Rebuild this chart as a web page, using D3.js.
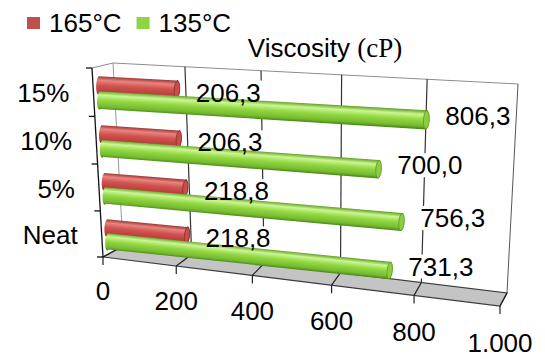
<!DOCTYPE html>
<html>
<head>
<meta charset="utf-8">
<script src="https://cdn.jsdelivr.net/npm/d3@7"></script>
<style>
  body { margin: 0; background: #fff; }
  text { font-family: "Liberation Sans", Arial, sans-serif; fill: #000; }
</style>
</head>
<body>
<svg id="chart" width="545" height="359"></svg>
<script>
// data
var categories = ["Neat", "5%", "10%", "15%"];
var seriesNames = ["165°C", "135°C"];
var values165 = [218.8, 218.8, 206.3, 206.3];
var values135 = [731.3, 756.3, 700.0, 806.3];
var tickValues = [0, 200, 400, 600, 800, 1000];
var titleText = "Viscosity ";
var unitText = "(cP)";

var svg = d3.select("#chart");
var locale = d3.formatLocale({decimal: ",", thousands: ".", grouping: [3], currency: ["", ""]});
var valueFormat = locale.format(",.1f"),
	tickFormat = locale.format(",");

// maps the unit square onto a quad (perspective), p0=(0,0) p1=(1,0) p2=(1,1) p3=(0,1)
function quad(p0, p1, p2, p3) {
	var dx1 = p1[0] - p2[0], dx2 = p3[0] - p2[0], dx3 = p0[0] - p1[0] + p2[0] - p3[0];
	var dy1 = p1[1] - p2[1], dy2 = p3[1] - p2[1], dy3 = p0[1] - p1[1] + p2[1] - p3[1];
	var den = dx1 * dy2 - dx2 * dy1;
	var g = (dx3 * dy2 - dx2 * dy3) / den,
		h = (dx1 * dy3 - dx3 * dy1) / den;
	var a = p1[0] - p0[0] + g * p1[0], b = p3[0] - p0[0] + h * p3[0], c = p0[0];
	var d = p1[1] - p0[1] + g * p1[1], e = p3[1] - p0[1] + h * p3[1], f = p0[1];
	return function(u, v) {
		var w = g * u + h * v + 1;
		return [(a * u + b * v + c) / w, (d * u + e * v + f) / w];
	};
}

// the 3d box as seen in the picture
var backWall = quad([123, 246], [507, 293], [518, 84], [113, 63]);   // u = value, v = height
var leftWall = quad([123, 246], [103, 257], [92, 68], [113, 63]);    // u = depth (1 front), v = height
var barPlane = quad([109, 257], [505, 300], [517, 89], [98, 68]);    // mid depth
var frontA = [103, 257], frontB = [500, 306], frontW = 1.105;
function front(u) {
	var s = u / ((1 - u) * frontW + u);
	return [frontA[0] + s * (frontB[0] - frontA[0]), frontA[1] + s * (frontB[1] - frontA[1])];
}
function floor(u, dep) {
	var b = backWall(u, 0), f = front(u);
	return [b[0] + dep * (f[0] - b[0]), b[1] + dep * (f[1] - b[1])];
}

var x = d3.scaleLinear().domain([0, 1000]).range([0, 1]);
var y = d3.scaleBand().domain(categories).range([0, 1]);
var inner = d3.scaleBand().domain(["135°C", "165°C"]).range([0, y.bandwidth()]).paddingOuter(0.645);
var radius = 0.045;
var color = d3.scaleOrdinal().domain(seriesNames).range(["#c0504d", "#8fd444"]);
var shades = {
	"165°C": ["#9a3634", "#e9857f", "#d2524e", "#b5403d", "#82292a"],
	"135°C": ["#66a228", "#ccf693", "#93d943", "#74ba2e", "#4c871a"]
};
var capFill = {"165°C": "#c94d49", "135°C": "#8ccd42"};
var capLine = {"165°C": "#8a2e2c", "135°C": "#5a9a22"};
var labelDy = {"165°C": 12, "135°C": 5};

function pts(list) { return list.map(function(p) { return p[0] + "," + p[1]; }).join(" "); }
function dist(a, b) { return Math.hypot(a[0] - b[0], a[1] - b[1]); }

// back wall
svg.append("polygon")
	.attr("points", pts([backWall(0, 0), backWall(1, 0), backWall(1, 1), backWall(0, 1)]))
	.attr("fill", "#fff").attr("stroke", "none");
var edges = svg.append("g");
edges.append("line").datum([backWall(0, 1), backWall(1, 1)]).attr("stroke", "#8c8c8c");
edges.append("line").datum([backWall(1, 1), backWall(1, 0)]).attr("stroke", "#555");
edges.append("line").datum([backWall(0, 1), backWall(0, 0)]).attr("stroke", "#9a9a9a");
edges.append("line").datum([leftWall(1, 1), leftWall(0, 1)]).attr("stroke", "#8c8c8c");
edges.selectAll("line")
	.attr("x1", function(d) { return d[0][0]; }).attr("y1", function(d) { return d[0][1]; })
	.attr("x2", function(d) { return d[1][0]; }).attr("y2", function(d) { return d[1][1]; });

// back wall grid
svg.append("g").selectAll("line")
	.data(tickValues.slice(1, -1))
	.enter().append("line")
	.attr("x1", function(t) { return backWall(x(t), 0)[0]; })
	.attr("y1", function(t) { return backWall(x(t), 0)[1]; })
	.attr("x2", function(t) { return backWall(x(t), 1)[0]; })
	.attr("y2", function(t) { return backWall(x(t), 1)[1]; })
	.attr("stroke", "#333").attr("stroke-width", 1.2);

// floor
svg.append("polygon")
	.attr("points", pts([floor(0, 0), floor(1, 0), floor(1, 1), floor(0, 1)]))
	.attr("fill", "#c4c4c4").attr("stroke", "#3a3a3a").attr("stroke-width", 1.2);

var floorGrid = svg.append("g").selectAll("g")
	.data(tickValues)
	.enter().append("g");
floorGrid.append("line")
	.attr("x1", function(t) { return floor(x(t), 0)[0]; })
	.attr("y1", function(t) { return floor(x(t), 0)[1]; })
	.attr("x2", function(t) { return floor(x(t), 1)[0]; })
	.attr("y2", function(t) { return floor(x(t), 1)[1]; })
	.attr("stroke", "#222").attr("stroke-width", 1.2);
floorGrid.append("line")
	.attr("x1", function(t) { return front(x(t))[0]; })
	.attr("y1", function(t) { return front(x(t))[1]; })
	.attr("x2", function(t) { return front(x(t))[0]; })
	.attr("y2", function(t) { return front(x(t))[1] + 8; })
	.attr("stroke", "#222").attr("stroke-width", 1.2);
floorGrid.append("text")
	.attr("x", function(t) { return front(x(t))[0]; })
	.attr("y", function(t) { return front(x(t))[1] + 43 + 3 * x(t); })
	.attr("text-anchor", "middle")
	.style("font-size", "26px")
	.text(function(t) { return tickFormat(t); });

// category axis on the front edge of the left wall
svg.append("line")
	.attr("x1", leftWall(1, 0)[0]).attr("y1", leftWall(1, 0)[1])
	.attr("x2", leftWall(1, 1)[0]).attr("y2", leftWall(1, 1)[1])
	.attr("stroke", "#111").attr("stroke-width", 1.3);
var bounds = categories.map(function(c) { return y(c); }).concat([1]);
svg.append("g").selectAll("line")
	.data(bounds)
	.enter().append("line")
	.attr("x1", function(h) { return leftWall(1, h)[0]; })
	.attr("y1", function(h) { return leftWall(1, h)[1]; })
	.attr("x2", function(h) { return leftWall(1, h)[0] - 6; })
	.attr("y2", function(h) { return leftWall(1, h)[1]; })
	.attr("stroke", "#111").attr("stroke-width", 1.3);
svg.append("g").selectAll("text")
	.data(categories)
	.enter().append("text")
	.attr("x", function(c) { return leftWall(1, y(c) + y.bandwidth() / 2)[0] - 24; })
	.attr("y", function(c) { return leftWall(1, y(c) + y.bandwidth() / 2)[1] + 10; })
	.attr("text-anchor", "end")
	.style("font-size", "26px")
	.text(function(c) { return c; });

// cylinders
var bars = [];
categories.slice().reverse().forEach(function(c) {
	var i = categories.indexOf(c);
	bars.push({cat: c, series: seriesNames[0], value: values165[i]});
	bars.push({cat: c, series: seriesNames[1], value: values135[i]});
});

var defs = svg.append("defs");
bars.forEach(function(d, k) {
	var hc = y(d.cat) + inner(d.series) + inner.bandwidth() / 2;
	var u = x(d.value);
	d.t0 = barPlane(0, hc + radius); d.t1 = barPlane(u, hc + radius);
	d.b0 = barPlane(0, hc - radius); d.b1 = barPlane(u, hc - radius);
	d.e0 = barPlane(0, hc); d.e1 = barPlane(u, hc);
	d.ang = Math.atan2(d.e1[1] - d.e0[1], d.e1[0] - d.e0[0]);
	d.ry1 = dist(d.t1, d.b1) / 2; d.ry0 = dist(d.t0, d.b0) / 2;
	d.rx = d.ry1 * 0.3;
	var m = barPlane(u / 2, hc);
	var t = dist(barPlane(u / 2, hc + radius), barPlane(u / 2, hc - radius)) / 2;
	var n = [-Math.sin(d.ang), Math.cos(d.ang)];
	d.id = "grad" + k;
	var grad = defs.append("linearGradient")
		.attr("id", d.id).attr("gradientUnits", "userSpaceOnUse")
		.attr("x1", m[0] - n[0] * t).attr("y1", m[1] - n[1] * t)
		.attr("x2", m[0] + n[0] * t).attr("y2", m[1] + n[1] * t);
	grad.selectAll("stop")
		.data(shades[d.series])
		.enter().append("stop")
		.attr("offset", function(s, j) { return [0, 0.22, 0.5, 0.85, 1][j]; })
		.attr("stop-color", function(s) { return s; });
});

// label boxes hide the grid but sit under the cylinders
var boxLayer = svg.append("g");
var cylLayer = svg.append("g");
var textLayer = svg.append("g");

var deg = function(d) { return d.ang * 180 / Math.PI; };
var cyl = cylLayer.selectAll("g")
	.data(bars)
	.enter().append("g");
cyl.append("path")
	.attr("d", function(d) {
		return "M" + d.t0 + "L" + d.t1
			+ "A" + d.rx + "," + d.ry1 + " " + deg(d) + " 0 1 " + d.b1
			+ "L" + d.b0
			+ "A" + (d.ry0 * 0.3) + "," + d.ry0 + " " + deg(d) + " 0 1 " + d.t0 + "Z";
	})
	.attr("fill", function(d) { return "url(#" + d.id + ")"; });
cyl.append("ellipse")
	.attr("transform", function(d) { return "translate(" + d.e1 + ") rotate(" + deg(d) + ")"; })
	.attr("rx", function(d) { return d.rx; })
	.attr("ry", function(d) { return d.ry1 - 0.5; })
	.attr("fill", function(d) { return capFill[d.series]; })
	.attr("stroke", function(d) { return capLine[d.series]; })
	.attr("stroke-width", 0.8);

// value labels
var labelPos = function(d) {
	return "translate(" + (d.e1[0] + d.rx + 16) + "," + (d.e1[1] + labelDy[d.series]) + ")";
};
var labels = textLayer.selectAll("text")
	.data(bars)
	.enter().append("text")
	.attr("transform", labelPos)
	.style("font-size", "26px")
	.text(function(d) { return valueFormat(d.value); });
labels.each(function(d) {
	var bb = this.getBBox();
	boxLayer.append("rect")
		.attr("transform", labelPos(d))
		.attr("x", bb.x - 2).attr("y", bb.y + 3)
		.attr("width", bb.width + 4).attr("height", bb.height - 6)
		.attr("fill", "#fff");
});

// title
var title = svg.append("text")
	.attr("x", 325).attr("y", 57)
	.attr("text-anchor", "middle")
	.style("font-size", "26px")
	.text(titleText);
title.append("tspan")
	.style("font-family", "'Liberation Serif', 'Times New Roman', serif")
	.style("font-size", "27px")
	.text(unitText);

// legend
var legend = svg.append("g");
var lx = 27;
seriesNames.forEach(function(s) {
	legend.append("rect")
		.attr("x", lx).attr("y", 17).attr("width", 13).attr("height", 12)
		.attr("fill", color(s));
	var t = legend.append("text")
		.attr("x", lx + 22).attr("y", 32)
		.style("font-size", "26px")
		.text(s);
	lx += 22 + t.node().getComputedTextLength() + 15;
});
</script>
</body>
</html>
